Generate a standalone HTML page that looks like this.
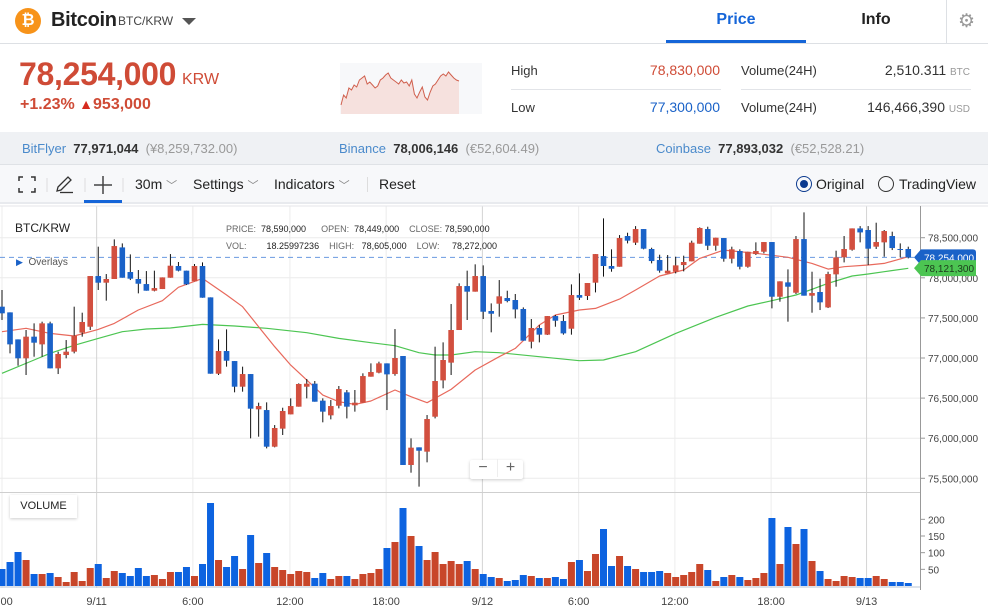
<!DOCTYPE html>
<html><head><meta charset="utf-8">
<style>
*{margin:0;padding:0;box-sizing:border-box}
body{width:988px;height:615px;overflow:hidden;background:#fff;font-family:"Liberation Sans",Arial,sans-serif;position:relative;color:#222}
.a{position:absolute;white-space:nowrap}
</style></head><body>
<!-- header -->
<div class="a" style="left:0;top:0;width:988px;height:44px;border-bottom:1px solid #dde0e4"></div>
<div class="a" style="left:15px;top:8px;width:26px;height:26px;border-radius:13px;background:#f7931a;color:#fff;font-weight:bold;font-size:16px;line-height:26px;text-align:center">₿</div>
<div class="a" style="left:51px;top:9px;font-size:20px;font-weight:bold;color:#222;letter-spacing:-0.3px">Bitcoin</div>
<div class="a" style="left:118px;top:14px;font-size:12px;color:#444">BTC/KRW</div>
<div class="a" style="left:182px;top:18px;width:0;height:0;border-left:7px solid transparent;border-right:7px solid transparent;border-top:7px solid #555"></div>
<div class="a" style="left:666px;top:11px;width:140px;text-align:center;font-size:16px;font-weight:bold;color:#1565d8">Price</div>
<div class="a" style="left:666px;top:40px;width:140px;height:3px;background:#1565d8"></div>
<div class="a" style="left:806px;top:11px;width:140px;text-align:center;font-size:16px;font-weight:bold;color:#222">Info</div>
<div class="a" style="left:946px;top:0;width:1px;height:43px;background:#dde0e4"></div>
<div class="a" style="left:958px;top:10px;font-size:19px;color:#999">⚙</div>

<!-- price block -->
<div class="a" style="left:19px;top:56px;font-size:32px;font-weight:bold;color:#cf4b36;letter-spacing:-0.3px">78,254,000</div>
<div class="a" style="left:182px;top:71px;font-size:16px;color:#cf4b36">KRW</div>
<div class="a" style="left:20px;top:96px;font-size:16px;font-weight:bold;color:#cf4b36">+1.23% <span style="color:#d62a1e;font-size:14px">▲</span>953,000</div>
<svg class="a" style="left:340px;top:63px" width="142" height="51" id="spark"></svg>

<div class="a" style="left:511px;top:63px;font-size:13px;color:#333">High</div>
<div class="a" style="left:600px;width:120px;text-align:right;top:62px;font-size:14px;color:#cf4b36">78,830,000</div>
<div class="a" style="left:511px;top:89px;width:210px;height:1px;background:#e2e4e8"></div>
<div class="a" style="left:511px;top:100px;font-size:13px;color:#333">Low</div>
<div class="a" style="left:600px;width:120px;text-align:right;top:99px;font-size:14px;color:#1a62c8">77,300,000</div>
<div class="a" style="left:741px;top:63px;font-size:13px;color:#333">Volume(24H)</div>
<div class="a" style="left:820px;width:150px;text-align:right;top:62px;font-size:14px;color:#333">2,510.311 <span style="font-size:10px;color:#999">BTC</span></div>
<div class="a" style="left:741px;top:89px;width:230px;height:1px;background:#e2e4e8"></div>
<div class="a" style="left:741px;top:100px;font-size:13px;color:#333">Volume(24H)</div>
<div class="a" style="left:800px;width:170px;text-align:right;top:99px;font-size:14px;color:#333">146,466,390 <span style="font-size:10px;color:#999">USD</span></div>

<!-- exchanges -->
<div class="a" style="left:0;top:132px;width:988px;height:33px;background:#eff1f4;border-bottom:1px solid #dfe2e6"></div>
<div class="a" style="left:22px;top:141px;font-size:13px"><span style="color:#4a8acb">BitFlyer</span>&nbsp;&nbsp;<b style="color:#333">77,971,044</b>&nbsp;&nbsp;<span style="color:#999">(¥8,259,732.00)</span></div>
<div class="a" style="left:339px;top:141px;font-size:13px"><span style="color:#4a8acb">Binance</span>&nbsp;&nbsp;<b style="color:#333">78,006,146</b>&nbsp;&nbsp;<span style="color:#999">(€52,604.49)</span></div>
<div class="a" style="left:656px;top:141px;font-size:13px"><span style="color:#4a8acb">Coinbase</span>&nbsp;&nbsp;<b style="color:#333">77,893,032</b>&nbsp;&nbsp;<span style="color:#999">(€52,528.21)</span></div>

<!-- toolbar -->
<div class="a" style="left:0;top:165px;width:988px;height:39px;background:#f7f8fa;border-bottom:2px solid #e8eaee"></div>
<svg class="a" style="left:0;top:165px" width="130" height="40">
 <g stroke="#333" stroke-width="1.5" fill="none">
  <path d="M19 16v-4h4M31 12h4v4M35 23v4h-4M23 27h-4v-4"/></g>
 <line x1="47" y1="13" x2="47" y2="27" stroke="#ddd"/>
 <g stroke="#333" stroke-width="1.3" fill="none">
  <path d="M57 26l1-4 10-10 3 3-10 10z"/><line x1="60" y1="27.5" x2="73" y2="27.5"/></g>
 <line x1="85" y1="13" x2="85" y2="27" stroke="#ddd"/>
 <g stroke="#444" stroke-width="1.5"><line x1="103" y1="11" x2="103" y2="29"/><line x1="94" y1="20" x2="112" y2="20"/></g>
 <rect x="84" y="35" width="38" height="3" fill="#1565d8"/>
 <line x1="123" y1="13" x2="123" y2="27" stroke="#ddd"/>
</svg>
<div class="a" style="left:135px;top:176px;font-size:14px;color:#222">30m <span style="color:#888;font-size:11px">﹀</span></div>
<div class="a" style="left:193px;top:176px;font-size:14px;color:#222">Settings <span style="color:#888;font-size:11px">﹀</span></div>
<div class="a" style="left:274px;top:176px;font-size:14px;color:#222">Indicators <span style="color:#888;font-size:11px">﹀</span></div>
<div class="a" style="left:367px;top:177px;width:1px;height:15px;background:#ddd"></div>
<div class="a" style="left:379px;top:176px;font-size:14px;color:#222">Reset</div>
<div class="a" style="left:796px;top:176px;width:16px;height:16px;border-radius:8px;border:1.5px solid #0b3a8f"><div style="position:absolute;left:2.5px;top:2.5px;width:8px;height:8px;border-radius:4px;background:#0b3a8f"></div></div>
<div class="a" style="left:816px;top:176px;font-size:14px;color:#222">Original</div>
<div class="a" style="left:878px;top:176px;width:16px;height:16px;border-radius:8px;border:1.5px solid #333"></div>
<div class="a" style="left:899px;top:176px;font-size:14px;color:#222">TradingView</div>

<!-- chart -->
<svg class="a" id="chart" style="left:0;top:205px" width="988" height="410" viewBox="0 205 988 410" font-family="Liberation Sans, Arial, sans-serif"></svg>

<div class="a" style="left:15px;top:221px;font-size:12px;color:#222">BTC/KRW</div>
<div class="a" style="left:226px;top:221px;font-size:9px;color:#666;line-height:17px">
<div>PRICE:&nbsp; <span style="color:#222">78,590,000</span>&nbsp;&nbsp;&nbsp;&nbsp;&nbsp; OPEN:&nbsp; <span style="color:#222">78,449,000</span>&nbsp;&nbsp;&nbsp; CLOSE: <span style="color:#222">78,590,000</span></div>
<div>VOL:&nbsp;&nbsp;&nbsp;&nbsp;&nbsp;&nbsp;&nbsp; <span style="color:#222">18.25997236</span>&nbsp;&nbsp;&nbsp; HIGH:&nbsp;&nbsp; <span style="color:#222">78,605,000</span>&nbsp;&nbsp;&nbsp; LOW:&nbsp;&nbsp;&nbsp;&nbsp; <span style="color:#222">78,272,000</span></div></div>
<div class="a" style="left:16px;top:257px;font-size:10px;color:#555"><span style="color:#1a62c8;font-size:9px">▶</span>&nbsp; Overlays</div>
<div class="a" style="left:470px;top:460px;width:53px;height:19px;background:#fff;box-shadow:0 1px 3px rgba(0,0,0,.2);border-radius:2px"></div>
<div class="a" style="left:470px;top:459px;width:26px;text-align:center;font-size:16px;color:#666">−</div>
<div class="a" style="left:497px;top:459px;width:26px;text-align:center;font-size:16px;color:#666;border-left:1px solid #eee">+</div>
<div class="a" style="left:10px;top:495px;width:67px;height:23px;background:#fff;box-shadow:0 1px 3px rgba(0,0,0,.2);font-size:11px;line-height:23px;text-align:center;color:#222">VOLUME</div>

<script>
// prices in thousand KRW
const opens=[77640,77569,77232,76996,77266,77170,77432,76871,77037,77079,77316,77390,78022,77939,77985,78379,78072,77985,77922,77839,77860,78001,78147,78089,77956,78147,77756,76804,77087,76962,76642,76800,76360,76351,75894,76119,76297,76393,76642,76680,76468,76285,76405,76572,76410,76443,76767,76817,76933,76800,77025,75666,75886,75832,76268,76721,76942,77349,77897,77827,78022,77586,77677,77748,77723,77611,77203,77374,77291,77523,77461,77365,77785,77773,77939,78271,78147,78138,78521,78438,78608,78359,78222,78055,78076,78159,78205,78425,78608,78400,78496,78238,78334,78138,78296,78325,78446,77764,77943,77814,78483,77777,77823,77631,78043,78255,78350,78616,78596,78388,78442,78521,78359,78359];
const closes=[77557,77170,76996,77266,77191,77432,76871,77050,77079,77278,77449,78022,77939,77985,78396,78001,77989,77926,77839,77872,78005,78151,78089,77918,78147,77752,76804,77087,76966,76642,76800,76368,76401,75894,76127,76339,76401,76676,76680,76455,76331,76401,76613,76393,76443,76775,76825,76933,76796,77000,75666,75882,75844,76239,76713,76975,77349,77897,77827,78022,77577,77552,77769,77710,77606,77216,77374,77291,77523,77465,77307,77785,77752,77935,78296,78147,78113,78496,78463,78608,78363,78209,78089,78089,78155,78197,78438,78621,78400,78500,78238,78355,78138,78325,78334,78446,77764,77956,77889,78483,77777,77810,77694,78047,78255,78359,78616,78566,78363,78446,78583,78371,78350,78254];
const highs=[77848,77569,77232,77349,77432,77453,77453,77079,77224,77640,77565,78022,78388,78047,78479,78429,78292,78097,78084,78089,78005,78296,78197,78089,78172,78192,77756,77232,77357,76962,76892,76800,76443,76447,76164,76380,76497,76684,76738,76713,76497,76476,76651,76601,76601,76809,76933,76954,76933,77361,77025,75998,75886,76289,77141,77195,77673,77931,78089,78168,78155,77681,77972,77839,77798,77631,77486,77411,77523,77536,77536,77918,78055,77935,78296,78741,78355,78533,78562,78645,78608,78375,78288,78284,78263,78276,78463,78629,78637,78500,78496,78388,78355,78325,78442,78446,78446,77956,78105,78521,78816,78076,77989,78076,78338,78521,78616,78645,78645,78687,78596,78575,78429,78388];
const lows=[77474,77058,76904,76788,77016,77016,76871,76800,76996,77058,77266,77349,77848,77715,77985,78001,77972,77806,77839,77831,77860,78001,78080,77910,77956,77752,76804,76788,76892,76572,76580,75998,76019,75873,75886,76040,76297,76393,76497,76455,76198,76235,76372,76247,76331,76443,76767,76809,76351,76779,75666,75570,75396,75699,76247,76622,76788,77349,77474,77827,77486,77320,77515,77694,77494,77216,77120,77195,77287,77390,77291,77291,77723,77723,77818,78014,78076,78138,78429,78409,78355,78180,78064,78055,78055,78080,78205,78425,78346,78338,78201,78180,78105,78126,78284,78305,77619,77702,77453,77798,77777,77565,77598,77623,77889,78192,78338,78442,78159,78359,78263,78346,78255,78242];
const volumes=[51,72,102,78,36,36,39,27,12,42,15,54,66,24,45,39,30,54,30,33,21,42,42,57,30,66,249,78,57,90,51,153,69,99,57,48,36,45,42,24,39,21,30,30,21,36,39,51,114,132,234,150,120,78,102,66,75,66,75,51,36,27,24,15,18,33,30,24,24,27,21,72,78,45,96,171,60,90,60,51,42,42,45,39,27,33,42,66,48,15,27,33,27,18,24,39,204,66,177,126,171,75,45,21,15,30,27,24,24,30,21,12,12,9];
const maFastIdx=[0,3,6,9,12,14,17,20,22,25,28,30,32,34,36,38,40,42,44,46,49,51,53,56,59,62,64,67,69,72,74,77,79,82,85,87,90,94,98,101,103,105,108,110,113];
const maFastVal=[77328,77370,77307,77274,77357,77432,77598,77715,77881,77993,77785,77640,77390,77141,76912,76725,76538,76455,76422,76464,76601,76518,76443,76609,76850,77016,77120,77411,77536,77598,77619,77735,77848,78022,78097,78242,78346,78305,78255,78180,78109,78138,78159,78180,78263];
const maSlowIdx=[0,4,6,9,12,15,18,21,25,29,33,38,42,46,49,52,54,56,59,62,67,72,75,79,84,89,93,96,99,101,103,106,108,110,113];
const maSlowVal=[76809,76975,77058,77158,77245,77328,77361,77374,77419,77399,77370,77316,77245,77191,77153,77066,77037,77037,77079,77066,77016,76966,76975,77079,77307,77507,77648,77715,77785,77856,77931,78022,78047,78076,78118];
const priceTicks=[78500,78000,77500,77000,76500,76000,75500];
const volTicks=[200,150,100,50];
const timeIdx=[0,11.8,23.8,35.9,47.9,59.9,71.9,83.9,95.9,107.8];
const timeLabels=["0:00","9/11","6:00","12:00","18:00","9/12","6:00","12:00","18:00","9/13"];
const lastPrice=78254, lastSlowMa=78121.3;
const sparkVals=[105,95,98,88,90,85,87,80,78,76,84,82,85,88,86,80,78,75,73,78,80,82,84,80,83,82,86,80,94,98,92,87,97,100,92,86,84,80,76,74,76,72,75,78,80,81];

const NS="http://www.w3.org/2000/svg";
const svg=document.getElementById('chart');
function el(tag,attrs,parent){const e=document.createElementNS(NS,tag);for(const k in attrs)e.setAttribute(k,attrs[k]);(parent||svg).appendChild(e);return e;}
const xOf=i=>2+i*8.02;
const yOf=p=>237.7+(78500-p)/1000*80.2;
const yVol=v=>586-v/3;
const RED="#d24f3f",BLUE="#1a62c8";
const fmt=n=>n.toLocaleString('en-US');

// grid
priceTicks.forEach(p=>{
  const l=el('line',{x1:0,x2:920,y1:yOf(p),y2:yOf(p),stroke:'#ececec'});
  
  
  el('line',{x1:920,x2:925,y1:yOf(p),y2:yOf(p),stroke:'#999'});
  const t=el('text',{x:928,y:yOf(p)+4,'font-size':10,fill:'#444'});t.textContent=fmt(p*1000);
  
  
});
timeIdx.forEach((ix,k)=>{
  const x=xOf(ix);
  const g=el('line',{x1:x,x2:x,y1:206,y2:588,stroke:timeLabels[k].includes('/')?'#d4d4d4':'#ececec'});
  
  
  const t=el('text',{x:x,y:605,'font-size':11,fill:'#444','text-anchor':'middle'});t.textContent=timeLabels[k];
  
  
});
el('line',{x1:0,x2:988,y1:206,y2:206,stroke:'#e4e6ea'});
el('line',{x1:0,x2:920,y1:492.5,y2:492.5,stroke:'#cfcfcf'});
el('line',{x1:0,x2:920,y1:587,y2:587,stroke:'#b8c4d6'});
el('line',{x1:920.5,x2:920.5,y1:206,y2:590,stroke:'#999'});
volTicks.forEach(v=>{
  el('line',{x1:920,x2:925,y1:yVol(v),y2:yVol(v),stroke:'#999'});
  const t=el('text',{x:928,y:yVol(v)+4,'font-size':10,fill:'#444'});t.textContent=v;
  
  
});

// current price dashed line
const cl=el('line',{x1:0,x2:920,y1:yOf(lastPrice),y2:yOf(lastPrice),stroke:'#6a9ae0','stroke-dasharray':'5,4'});



// volume bars
volumes.forEach((v,i)=>{
  const up=closes[i]>=opens[i];
  const r=el('rect',{x:xOf(i)-3.5,y:yVol(v),width:7,height:586-yVol(v),fill:up?'#c8462a':'#0d63e0'});
  
  
});

// moving averages
function line(idx,val,color,name){
  const d=idx.map((ix,k)=>(k?'L':'M')+xOf(ix).toFixed(1)+' '+yOf(val[k]).toFixed(1)).join(' ');
  const p=el('path',{d:d,fill:'none',stroke:color,'stroke-width':1.2,'stroke-linejoin':'round'});
  
  
}
line(maSlowIdx,maSlowVal,'#4cc552','moving-average-slow');
line(maFastIdx,maFastVal,'#e8695c','moving-average-fast');

// candles
opens.forEach((o,i)=>{
  const c=closes[i],up=c>=o,col=up?RED:BLUE,x=xOf(i);
  const w=el('line',{x1:x,x2:x,y1:yOf(highs[i]),y2:yOf(lows[i]),stroke:'#111','stroke-width':1});
  
  
  const top=yOf(Math.max(o,c)),bot=yOf(Math.min(o,c));
  const b=el('rect',{x:x-2.8,y:top,width:5.6,height:Math.max(1,bot-top),fill:col});
  
  
});

// price labels
const yl=yOf(lastPrice);
const pl=el('path',{d:`M914 ${yl} L921 ${yl-8} H973 Q976 ${yl-8} 976 ${yl-5} V${yl+5} Q976 ${yl+8} 973 ${yl+8} H921 Z`,fill:'#1a62c8'});


const plt=el('text',{x:924,y:yl+4,'font-size':10,fill:'#fff'});plt.textContent=fmt(lastPrice*1000);
const ym=yOf(lastSlowMa);
const ml=el('path',{d:`M914 ${ym} L921 ${ym-8} H976 V${ym+8} H921 Z`,fill:'#4cc552'});


const mlt=el('text',{x:924,y:ym+4,'font-size':10,fill:'#1d3b1d'});mlt.textContent=fmt(Math.round(lastSlowMa*1000));

// sparkline
const sp=document.getElementById('spark');
el('rect',{x:0,y:0,width:142,height:51,fill:'#f7f8fa'},sp);
const sx=k=>1+k*(118/(sparkVals.length-1)), sy=v=>v-63;
let sd=sparkVals.map((v,k)=>(k?'L':'M')+sx(k).toFixed(1)+' '+sy(v)).join(' ');
const sa=el('path',{d:sd+` L${sx(sparkVals.length-1)} 51 L1 51 Z`,fill:'#f6e1de'},sp);


const sl=el('path',{d:sd,fill:'none',stroke:'#d0604e','stroke-width':1},sp);


</script>
</body></html>
